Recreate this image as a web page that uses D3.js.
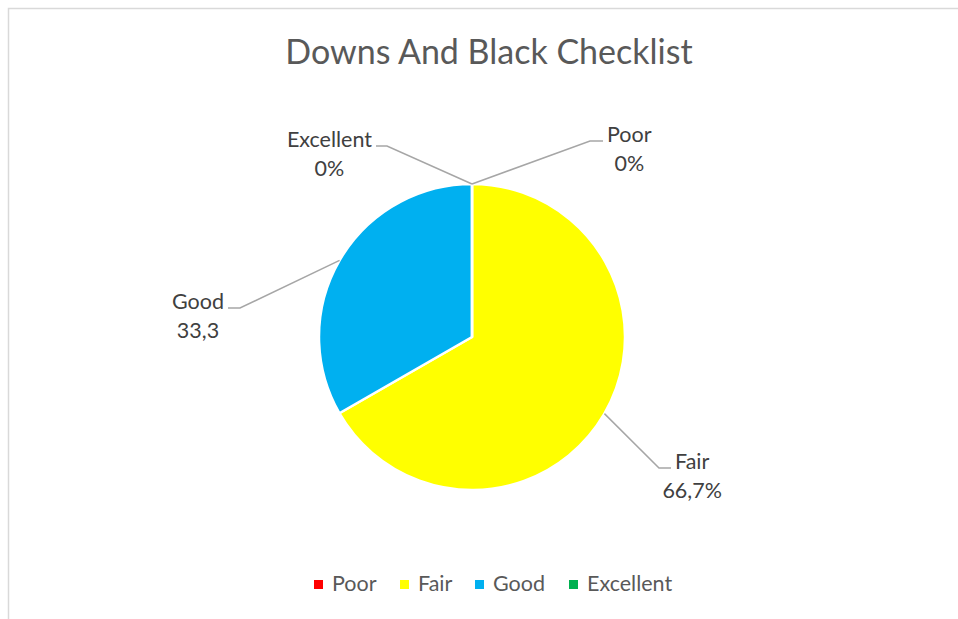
<!DOCTYPE html>
<html>
<head>
<meta charset="utf-8">
<script src="https://cdn.jsdelivr.net/npm/d3@7"></script>
<style>
  body { margin: 0; background: #fff; }
  text { font-family: Lato, "Open Sans", sans-serif; }
</style>
</head>
<body>
<script>
// chart data
var categories = ["Poor", "Fair", "Good", "Excellent"];
var values = [0, 66.7, 33.3, 0];
var labelText = ["0%", "66,7%", "33,3", "0%"];
var colors = ["#ff0000", "#ffff00", "#00b0f0", "#00b050"];

var W = 958, H = 619;
var cx = 472, cy = 337, radius = 153;

// where each label's leader elbows and where the text sits
var labelLayout = {
  "Poor":      { elbow: [590, 141], end: [603, 141], tx: 607, anchor: "start" },
  "Fair":      { elbow: [659, 468], end: [671, 468], tx: 675, anchor: "start" },
  "Good":      { elbow: [240, 308], end: [228, 308], tx: 224, anchor: "end" },
  "Excellent": { elbow: [387, 146], end: [376, 146], tx: 372, anchor: "end" }
};

var svg = d3.select("body").append("svg")
    .attr("width", W)
    .attr("height", H);

// chart border
svg.append("rect")
    .attr("x", 8.5).attr("y", 8.5)
    .attr("width", W + 10).attr("height", H + 10)
    .attr("fill", "#fff")
    .attr("stroke", "#d9d9d9")
    .attr("stroke-width", 1.5);

// title
svg.append("text")
    .attr("x", 489).attr("y", 64)
    .attr("text-anchor", "middle")
    .style("font-size", "34px")
    .style("fill", "#595959")
    .text("Downs And Black Checklist");

var pie = d3.pie().sort(null).value(function(d) { return d; });
var arcs = pie(values);
var arc = d3.arc().innerRadius(0).outerRadius(radius);

var g = svg.append("g")
    .attr("transform", "translate(" + cx + "," + cy + ")");

g.selectAll("path.slice")
    .data(arcs)
  .enter().append("path")
    .attr("class", "slice")
    .attr("d", arc)
    .attr("fill", function(d, i) { return colors[i]; })
    .attr("stroke", "#fff")
    .attr("stroke-width", 2.5)
    .attr("stroke-linejoin", "round");

// leader lines + labels
arcs.forEach(function(d, i) {
    var lay = labelLayout[categories[i]];
    var mid = (d.startAngle + d.endAngle) / 2;
    var sx = cx + radius * Math.sin(mid);
    var sy = cy - radius * Math.cos(mid);

    svg.append("polyline")
        .attr("points", [[sx, sy], lay.elbow, lay.end].map(function(p) { return p.join(","); }).join(" "))
        .attr("fill", "none")
        .attr("stroke", "#a6a6a6")
        .attr("stroke-width", 1.5);

    var t = svg.append("text")
        .attr("text-anchor", "middle")
        .style("font-size", "21.5px")
        .style("fill", "#404040");

    var nameLine = t.append("tspan")
        .attr("y", lay.end[1] + 1)
        .text(categories[i]);
    var w = nameLine.node().getComputedTextLength();
    var centre = lay.anchor === "start" ? lay.tx + w / 2 : lay.tx - w / 2;
    nameLine.attr("x", centre);

    t.append("tspan")
        .attr("x", centre)
        .attr("dy", 29)
        .text(labelText[i]);
});

// legend
var legendX = [314, 400, 475, 569];
var legend = svg.append("g");
categories.forEach(function(c, i) {
    legend.append("rect")
        .attr("x", legendX[i]).attr("y", 580)
        .attr("width", 9).attr("height", 9)
        .attr("fill", colors[i]);
    legend.append("text")
        .attr("x", legendX[i] + 18).attr("y", 591)
        .style("font-size", "21.5px")
        .style("fill", "#595959")
        .text(c);
});
</script>
</body>
</html>
